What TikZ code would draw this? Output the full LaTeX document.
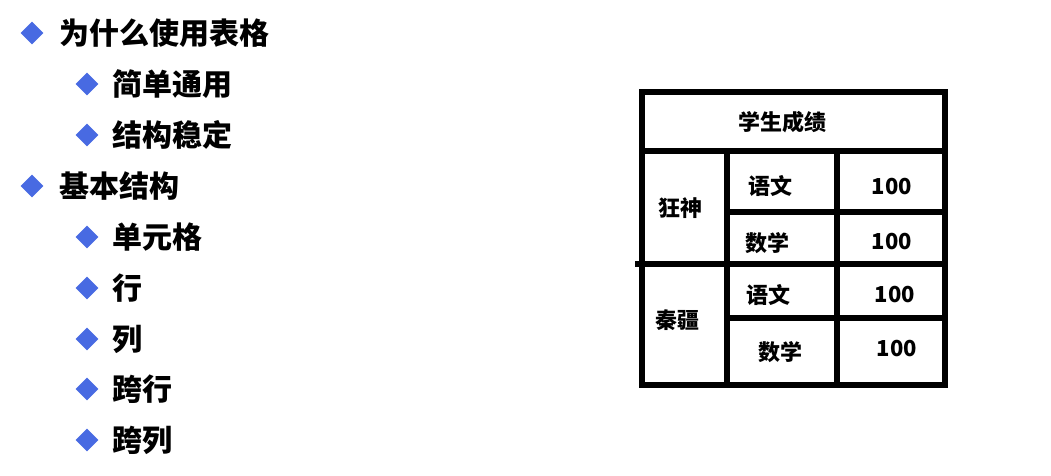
\documentclass[tikz,border=0pt]{standalone}
\usepackage{fontspec}
\newfontfamily\cjk{Noto Sans CJK SC}
\usepackage{xcolor}
\usepackage{tikz}
\usetikzlibrary{shapes.geometric}
\definecolor{dotblue}{RGB}{72,106,226}
\tikzset{
    tnode/.style = {align=center, inner sep=0pt, text centered},
    dot/.style = {tnode, diamond, fill=dotblue, minimum width=23pt, minimum height=23pt},
    lvl_one/.style = {tnode, anchor=west, font=\cjk\bfseries\fontsize{30}{34}\selectfont},
    lvl_two/.style = {lvl_one},
    cell/.style = {tnode, font=\cjk\bfseries\fontsize{22}{26}\selectfont},
    rule/.style = {line width=6pt, line cap=rect}
}
\begin{document}
\begin{tikzpicture}[x=1pt,y=-1pt]
    \useasboundingbox (0,0) rectangle (1051,475);

    % list
    \node [dot] (d1) at (32,33) {};
    \node [lvl_one] (t1) at (59,33) {为什么使用表格};
    \node [dot] (d2) at (87,84) {};
    \node [lvl_two] (t2) at (112,84) {简单通用};
    \node [dot] (d3) at (87,135) {};
    \node [lvl_two] (t3) at (112,135) {结构稳定};
    \node [dot] (d4) at (32,186) {};
    \node [lvl_one] (t4) at (59,186) {基本结构};
    \node [dot] (d5) at (87,237) {};
    \node [lvl_two] (t5) at (112,237) {单元格};
    \node [dot] (d6) at (87,288) {};
    \node [lvl_two] (t6) at (112,288) {行};
    \node [dot] (d7) at (87,339) {};
    \node [lvl_two] (t7) at (112,339) {列};
    \node [dot] (d8) at (87,389) {};
    \node [lvl_two] (t8) at (112,389) {跨行};
    \node [dot] (d9) at (87,440) {};
    \node [lvl_two] (t9) at (112,440) {跨列};

    % table
    \draw [rule] (642,92) rectangle (945,385);
    \draw [rule] (642,151) -- (945,151);
    \draw [rule] (638,264) -- (945,264);
    \draw [rule] (727,151) -- (727,385);
    \draw [rule] (837,151) -- (837,385);
    \draw [rule] (727,212) -- (945,212);
    \draw [rule] (727,318) -- (945,318);

    \node [cell] (head) at (782,122) {学生成绩};
    \node [cell] (kuang) at (680,208) {狂神};
    \node [cell] (qin) at (677,320) {秦疆};
    \node [cell] (yw1) at (770,186) {语文};
    \node [cell] (sx1) at (767,243) {数学};
    \node [cell] (yw2) at (768,295) {语文};
    \node [cell] (sx2) at (780,352) {数学};
    \node [cell] (s1) at (892,187) {100};
    \node [cell] (s2) at (892,242) {100};
    \node [cell] (s3) at (895,295) {100};
    \node [cell] (s4) at (897,349) {100};
\end{tikzpicture}
\end{document}
